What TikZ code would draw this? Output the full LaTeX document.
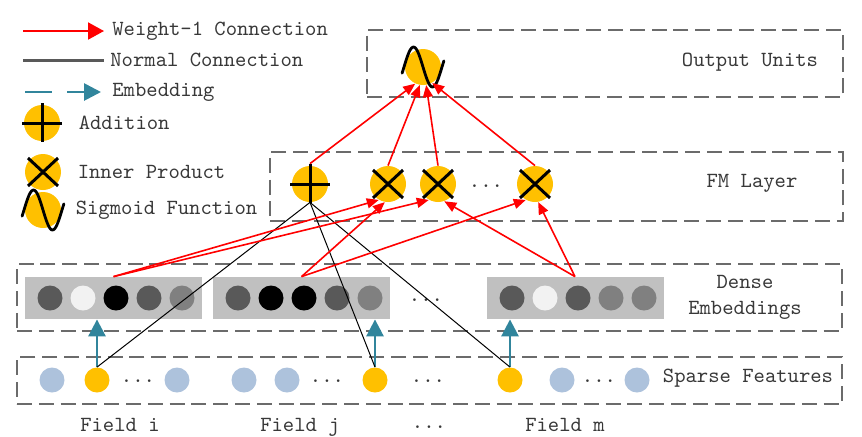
\documentclass[tikz,border=0pt]{standalone}
\usepackage{fontspec}
\usepackage{xcolor}
\usetikzlibrary{arrows.meta, positioning, calc}

\definecolor{unitgold}{HTML}{FFC000}
\definecolor{sparseblue}{HTML}{ADC2DC}
\definecolor{embteal}{HTML}{31859C}
\definecolor{barfill}{HTML}{C0C0C0}
\definecolor{layergray}{HTML}{6B6B6B}
\definecolor{txtgray}{HTML}{383838}
\definecolor{wred}{HTML}{FF0000}
\definecolor{dotdark}{HTML}{595959}
\definecolor{dotlight}{HTML}{F2F2F2}
\definecolor{dotmid}{HTML}{808080}

\begin{document}
\begin{tikzpicture}[
    x=0.5pt, y=-0.5pt,
    font=\ttfamily\fontsize{10.8}{13}\selectfont, text=txtgray,
    layer/.style={draw=layergray, line width=1.25pt,
                  dash pattern=on 7.5pt off 3.4pt, inner sep=0pt},
    unit/.style={circle, fill=unitgold, minimum size=18pt, inner sep=0pt},
    embdot/.style={circle, fill=#1, minimum size=12.5pt, inner sep=0pt},
    sparse/.style={circle, fill=#1, minimum size=12.5pt, inner sep=0pt},
    sparse/.default=sparseblue,
    bar/.style={fill=barfill, minimum width=88.5pt, minimum height=21pt, inner sep=0pt},
    wconn/.style={-{Triangle[length=6pt, width=5pt]}, draw=wred, line width=0.8pt},
    normconn/.style={draw=black, line width=0.5pt},
    embconn/.style={-{Triangle[length=8.5pt, width=8.5pt]}, draw=embteal, line width=1.4pt},
    lbl/.style={anchor=west, inner sep=0pt},
    plusmark/.pic={\draw[line width=1.5pt] (-20,0) -- (20,0) (0,-20) -- (0,19);},
    crossmark/.pic={\draw[line width=1.5pt] (-15,-14) -- (15,14) (-15,14) -- (15,-14);},
    sigmark/.pic={\draw[line width=1.4pt, line cap=round]
        plot[domain=-1.1:1.1, samples=41, smooth] ({19*\x},{20*sin(\x*180)});},
  ]
  \useasboundingbox (0,0) rectangle (862,436);

  %% ── Legend ────────────────────────────────────────────────────────────
  \coordinate (lgw0) at (23,31);   \coordinate (lgw1) at (104,31);
  \coordinate (lgn0) at (23,60);   \coordinate (lgn1) at (104,60);
  \coordinate (lge0) at (25,92);   \coordinate (lge1) at (101,92);
  \draw[wconn, line width=1pt, -{Triangle[length=8pt, width=8.5pt]}] (lgw0) -- (lgw1);
  \draw[draw=dotdark, line width=1.5pt] (lgn0) -- (lgn1);
  \draw[embconn, dash pattern=on 13.5pt off 7.5pt] (lge0) -- (lge1);
  \node[lbl, right=4pt of lgw1] (lgwt) {Weight-1 Connection};
  \node[lbl, right=3pt of lgn1] (lgnt) {Normal Connection};
  \node[lbl, right=5.5pt of lge1] (lget) {Embedding};

  \node[unit] (lgadd) at (42,123) {};  \pic at (lgadd) {plusmark};
  \node[unit] (lgdot) at (43,172) {};  \pic at (lgdot) {crossmark};
  \node[unit] (lgsig) at (43,210) {};  \pic at (lgsig) {sigmark};
  \node[lbl, right=9pt of lgadd] (lgaddt) {Addition};
  \node[lbl, right=8pt of lgdot] (lgdott) {Inner Product};
  \node[lbl, right=7pt of lgsig] (lgsigt) {Sigmoid Function};

  %% ── Layer frames ──────────────────────────────────────────────────────
  \node[layer, minimum width=238pt,   minimum height=33.5pt] (outbox)   at (605,63.5)   {};
  \node[layer, minimum width=286.5pt, minimum height=34.5pt] (fmbox)    at (556.5,186.5) {};
  \node[layer, minimum width=412.5pt, minimum height=33.5pt] (densebox) at (429.5,297.5) {};
  \node[layer, minimum width=412.5pt, minimum height=23.5pt] (sparsebox) at (429.5,380.5) {};

  \node (outlbl)    at (750,62)  {Output Units};
  \node (fmlbl)     at (752,183) {FM Layer};
  \node[align=center] (denselbl) at (745,297) {Dense\\Embeddings};
  \node (sparselbl) at (748,378) {Sparse Features};

  %% ── Output and FM units ───────────────────────────────────────────────
  \node[unit] (out)   at (423,67)  {};  \pic at (out)   {sigmark};
  \node[unit] (fmadd) at (310,184) {};  \pic at (fmadd) {plusmark};
  \node[unit] (fmx1)  at (388,184) {};  \pic at (fmx1)  {crossmark};
  \node[unit] (fmx2)  at (438,184) {};  \pic at (fmx2)  {crossmark};
  \node[unit] (fmx3)  at (535,184) {};  \pic at (fmx3)  {crossmark};
  \node (fmdots) at (486,186) {...};

  %% ── Dense embeddings (one bar per field) ──────────────────────────────
  \node[bar] (gi) at (113.5,298) {};
  \node[bar] (gj) at (301.5,298) {};
  \node[bar] (gm) at (575,298)   {};
  \foreach \c [count=\k] in {dotdark,dotlight,black,dotdark,dotmid}
    \node[embdot=\c] (ei\k) at ({17+33*\k},298) {};
  \foreach \c [count=\k] in {dotdark,black,black,dotdark,dotmid}
    \node[embdot=\c] (ej\k) at ({205+33*\k},298) {};
  \foreach \c [count=\k] in {dotdark,dotlight,dotdark,dotmid,dotmid}
    \node[embdot=\c] (em\k) at ({479+33*\k},298) {};
  \node (densedots) at (426,300) {...};

  %% ── Sparse features ───────────────────────────────────────────────────
  \node[sparse] (fi1) at (52,380)  {};
  \node[sparse=unitgold] (si) at (97,380) {};
  \node (fidots) at (138,381) {...};
  \node[sparse] (fi2) at (177,380) {};
  \node[sparse] (fj1) at (244,380) {};
  \node[sparse] (fj2) at (287,380) {};
  \node (fjdots) at (327,381) {...};
  \node[sparse=unitgold] (sj) at (375,380) {};
  \node (middots) at (428,381) {...};
  \node[sparse=unitgold] (sm) at (510,380) {};
  \node[sparse] (fm1) at (562,380) {};
  \node (fmdots2) at (599,381) {...};
  \node[sparse] (fm2) at (637,380) {};

  \node (fldi) at (120,425) {Field i};
  \node (fldj) at (300,427) {Field j};
  \node (flddots) at (429,427) {...};
  \node (fldm) at (565,425) {Field m};

  %% ── Embedding arrows ──────────────────────────────────────────────────
  \draw[embconn] (si.north) -- (si.north |- gi.south);
  \draw[embconn] (sj.north) -- (sj.north |- gj.south);
  \draw[embconn] (sm.north) -- (sm.north |- gm.south);

  %% ── Normal connections into the addition unit ─────────────────────────
  \draw[normconn] (fmadd.south) -- (si.north);
  \draw[normconn] (fmadd.south) -- (sj.north);
  \draw[normconn] (fmadd.south) -- (sm.north);

  %% ── Weight-1 connections: embeddings -> inner products ────────────────
  \draw[wconn] (gi.north) -- (fmx1.-120);
  \draw[wconn] (gi.north) -- (fmx2.-120);
  \draw[wconn] (gj.north) -- (fmx1.-100);
  \draw[wconn] (gj.north) -- (fmx3.-120);
  \draw[wconn] (gm.north) -- (fmx2.-70);
  \draw[wconn] (gm.north) -- (fmx3.-80);

  %% ── Weight-1 connections: FM layer -> output ──────────────────────────
  \draw[wconn] ([yshift=1pt]fmadd.north) -- (out.-115);
  \draw[wconn] (fmx1.north) -- (out.-100);
  \draw[wconn] (fmx2.north) -- (out.-80);
  \draw[wconn] (fmx3.north) -- (out.-60);

\end{tikzpicture}
\end{document}
